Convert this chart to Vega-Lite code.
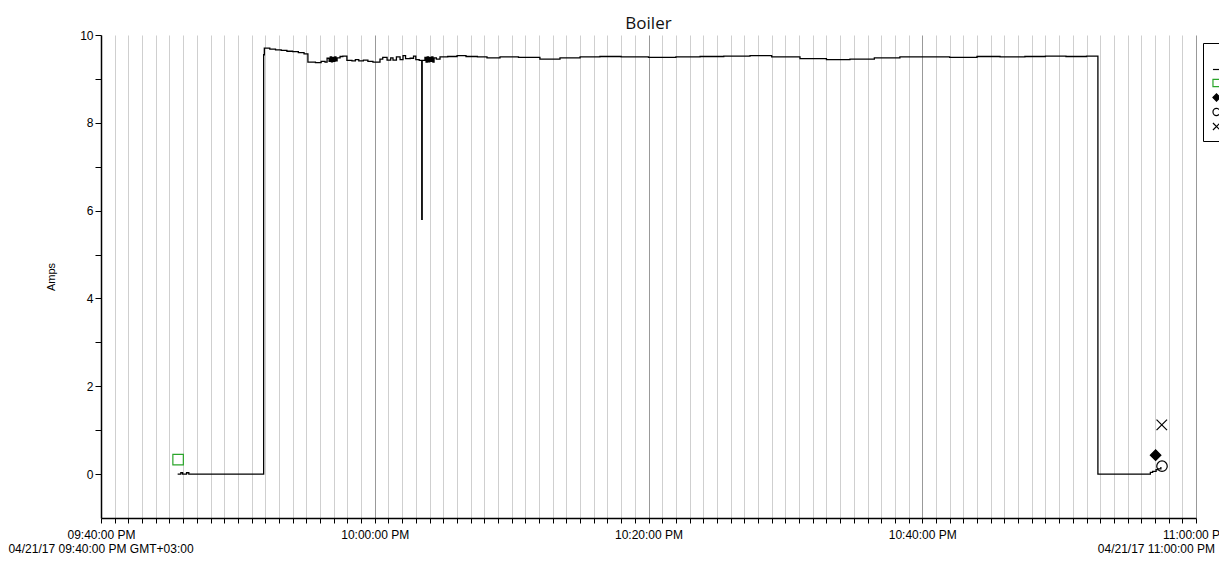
{
  "$schema": "https://vega.github.io/schema/vega-lite/v6.json",
  "width": 1095,
  "height": 483,
  "autosize": {"type": "none"},
  "padding": {"left": 101, "top": 35, "right": 23, "bottom": 48},
  "background": "white",
  "title": {"text": "Boiler", "font": "Open Sans", "fontSize": 17, "fontWeight": "normal", "color": "#111111", "anchor": "middle", "offset": -4},
  "config": {
    "view": {"stroke": null},
    "axis": {"labelFont": "Liberation Sans", "labelColor": "black", "titleFont": "Liberation Sans", "titleColor": "black", "tickColor": "black", "domainColor": "black"}
  },
  "datasets": {
    "amps": [
      {"t": "2017-04-21T21:45:36Z", "v": 0.0},
      {"t": "2017-04-21T21:45:50Z", "v": 0.03},
      {"t": "2017-04-21T21:45:58Z", "v": 0.0},
      {"t": "2017-04-21T21:46:15Z", "v": 0.03},
      {"t": "2017-04-21T21:46:25Z", "v": 0.0},
      {"t": "2017-04-21T21:51:50Z", "v": 0.0},
      {"t": "2017-04-21T21:51:53Z", "v": 9.55},
      {"t": "2017-04-21T21:51:56Z", "v": 9.7},
      {"t": "2017-04-21T21:52:20Z", "v": 9.68},
      {"t": "2017-04-21T21:52:45Z", "v": 9.66},
      {"t": "2017-04-21T21:53:10Z", "v": 9.65},
      {"t": "2017-04-21T21:53:35Z", "v": 9.63},
      {"t": "2017-04-21T21:54:00Z", "v": 9.62},
      {"t": "2017-04-21T21:54:25Z", "v": 9.6},
      {"t": "2017-04-21T21:54:50Z", "v": 9.57},
      {"t": "2017-04-21T21:55:07Z", "v": 9.38},
      {"t": "2017-04-21T21:55:40Z", "v": 9.37},
      {"t": "2017-04-21T21:56:05Z", "v": 9.4},
      {"t": "2017-04-21T21:56:22Z", "v": 9.38},
      {"t": "2017-04-21T21:56:31Z", "v": 9.47},
      {"t": "2017-04-21T21:56:40Z", "v": 9.4},
      {"t": "2017-04-21T21:56:45Z", "v": 9.5},
      {"t": "2017-04-21T21:56:50Z", "v": 9.39},
      {"t": "2017-04-21T21:56:55Z", "v": 9.49},
      {"t": "2017-04-21T21:57:00Z", "v": 9.4},
      {"t": "2017-04-21T21:57:05Z", "v": 9.5},
      {"t": "2017-04-21T21:57:10Z", "v": 9.41},
      {"t": "2017-04-21T21:57:15Z", "v": 9.48},
      {"t": "2017-04-21T21:57:28Z", "v": 9.51},
      {"t": "2017-04-21T21:57:40Z", "v": 9.52},
      {"t": "2017-04-21T21:57:58Z", "v": 9.42},
      {"t": "2017-04-21T21:58:20Z", "v": 9.41},
      {"t": "2017-04-21T21:58:35Z", "v": 9.44},
      {"t": "2017-04-21T21:58:50Z", "v": 9.41},
      {"t": "2017-04-21T21:59:10Z", "v": 9.43},
      {"t": "2017-04-21T21:59:30Z", "v": 9.4},
      {"t": "2017-04-21T21:59:52Z", "v": 9.38},
      {"t": "2017-04-21T22:00:23Z", "v": 9.45},
      {"t": "2017-04-21T22:00:35Z", "v": 9.49},
      {"t": "2017-04-21T22:00:54Z", "v": 9.43},
      {"t": "2017-04-21T22:01:10Z", "v": 9.48},
      {"t": "2017-04-21T22:01:20Z", "v": 9.43},
      {"t": "2017-04-21T22:01:35Z", "v": 9.5},
      {"t": "2017-04-21T22:01:51Z", "v": 9.44},
      {"t": "2017-04-21T22:02:04Z", "v": 9.53},
      {"t": "2017-04-21T22:02:15Z", "v": 9.46},
      {"t": "2017-04-21T22:02:35Z", "v": 9.47},
      {"t": "2017-04-21T22:02:50Z", "v": 9.52},
      {"t": "2017-04-21T22:03:00Z", "v": 9.44},
      {"t": "2017-04-21T22:03:15Z", "v": 9.42},
      {"t": "2017-04-21T22:03:26Z", "v": 5.8},
      {"t": "2017-04-21T22:03:28Z", "v": 9.42},
      {"t": "2017-04-21T22:03:40Z", "v": 9.49},
      {"t": "2017-04-21T22:03:45Z", "v": 9.38},
      {"t": "2017-04-21T22:03:50Z", "v": 9.5},
      {"t": "2017-04-21T22:03:55Z", "v": 9.39},
      {"t": "2017-04-21T22:04:00Z", "v": 9.49},
      {"t": "2017-04-21T22:04:05Z", "v": 9.4},
      {"t": "2017-04-21T22:04:10Z", "v": 9.5},
      {"t": "2017-04-21T22:04:15Z", "v": 9.38},
      {"t": "2017-04-21T22:04:20Z", "v": 9.48},
      {"t": "2017-04-21T22:04:30Z", "v": 9.45},
      {"t": "2017-04-21T22:04:46Z", "v": 9.5},
      {"t": "2017-04-21T22:05:20Z", "v": 9.51},
      {"t": "2017-04-21T22:06:01Z", "v": 9.53},
      {"t": "2017-04-21T22:06:40Z", "v": 9.51},
      {"t": "2017-04-21T22:07:30Z", "v": 9.5},
      {"t": "2017-04-21T22:08:12Z", "v": 9.48},
      {"t": "2017-04-21T22:09:09Z", "v": 9.5},
      {"t": "2017-04-21T22:10:30Z", "v": 9.49},
      {"t": "2017-04-21T22:12:04Z", "v": 9.45},
      {"t": "2017-04-21T22:13:32Z", "v": 9.48},
      {"t": "2017-04-21T22:15:00Z", "v": 9.5},
      {"t": "2017-04-21T22:16:27Z", "v": 9.51},
      {"t": "2017-04-21T22:18:00Z", "v": 9.5},
      {"t": "2017-04-21T22:20:00Z", "v": 9.49},
      {"t": "2017-04-21T22:22:00Z", "v": 9.5},
      {"t": "2017-04-21T22:23:46Z", "v": 9.51},
      {"t": "2017-04-21T22:25:30Z", "v": 9.52},
      {"t": "2017-04-21T22:27:25Z", "v": 9.53},
      {"t": "2017-04-21T22:29:00Z", "v": 9.5},
      {"t": "2017-04-21T22:31:04Z", "v": 9.46},
      {"t": "2017-04-21T22:33:00Z", "v": 9.44},
      {"t": "2017-04-21T22:34:43Z", "v": 9.45},
      {"t": "2017-04-21T22:36:30Z", "v": 9.48},
      {"t": "2017-04-21T22:38:22Z", "v": 9.5},
      {"t": "2017-04-21T22:40:00Z", "v": 9.5},
      {"t": "2017-04-21T22:42:00Z", "v": 9.49},
      {"t": "2017-04-21T22:44:00Z", "v": 9.51},
      {"t": "2017-04-21T22:45:41Z", "v": 9.5},
      {"t": "2017-04-21T22:47:30Z", "v": 9.51},
      {"t": "2017-04-21T22:49:00Z", "v": 9.52},
      {"t": "2017-04-21T22:50:30Z", "v": 9.51},
      {"t": "2017-04-21T22:52:00Z", "v": 9.52},
      {"t": "2017-04-21T22:52:50Z", "v": 0.0},
      {"t": "2017-04-21T22:56:25Z", "v": 0.0},
      {"t": "2017-04-21T22:56:40Z", "v": 0.04},
      {"t": "2017-04-21T22:56:50Z", "v": 0.06},
      {"t": "2017-04-21T22:57:05Z", "v": 0.1},
      {"t": "2017-04-21T22:57:13Z", "v": 0.12},
      {"t": "2017-04-21T22:57:26Z", "v": 0.16}
    ],
    "markers": [
      {"t": "2017-04-21T21:45:38Z", "v": 0.33, "series": "Start"},
      {"t": "2017-04-21T22:57:03Z", "v": 0.43, "series": "Average"},
      {"t": "2017-04-21T22:57:31Z", "v": 0.18, "series": "Minimum"},
      {"t": "2017-04-21T22:57:30Z", "v": 1.12, "series": "Maximum"}
    ]
  },
  "encoding": {
    "x": {
      "field": "t", "type": "temporal",
      "scale": {"type": "utc", "domain": [
        {"year": 2017, "month": 4, "date": 21, "hours": 21, "minutes": 40, "utc": true},
        {"year": 2017, "month": 4, "date": 21, "hours": 23, "minutes": 0, "utc": true}
      ]},
      "axis": {
        "title": null,
        "tickCount": 80,
        "labelExpr": "utcminutes(datum.value) % 20 == 0 ? utcFormat(datum.value, '%I:%M:%S %p') : ''",
        "labelFontSize": 12,
        "labelPadding": 6,
        "labelOverlap": false,
        "labelBound": false,
        "labelFlush": false,
        "tickSize": 5,
        "tickWidth": 1,
        "grid": true,
        "gridColor": {"condition": {"test": "utcminutes(datum.value) % 20 == 0", "value": "#999999"}, "value": "#cfcfcf"},
        "gridWidth": 1,
        "gridOpacity": 1,
        "domainWidth": 1.5
      }
    },
    "y": {
      "field": "v", "type": "quantitative",
      "scale": {"domain": [-1, 10], "nice": false, "zero": false},
      "axis": {
        "title": "Amps",
        "titleFontSize": 11,
        "titleFontWeight": "normal",
        "titlePadding": 23,
        "values": [0, 1, 2, 3, 4, 5, 6, 7, 8, 9, 10],
        "labelExpr": "datum.value % 2 == 0 ? datum.label : ''",
        "labelFontSize": 12,
        "labelPadding": 2,
        "tickSize": 6,
        "grid": false,
        "domainWidth": 1.5
      }
    }
  },
  "layer": [
    {
      "data": {"name": "amps"},
      "mark": {"type": "line", "interpolate": "step-after", "strokeWidth": 1.3, "color": "black"},
      "encoding": {}
    },
    {
      "data": {"name": "markers"},
      "mark": {"type": "point", "size": 110, "strokeWidth": 1.2, "opacity": 1},
      "encoding": {
        "stroke": {"field": "series", "type": "nominal",
          "scale": {"domain": ["Amps", "Start", "Average", "Minimum", "Maximum"], "range": ["black", "#2aa52a", "black", "black", "black"]},
          "legend": {"orient": "none", "legendX": 1102, "legendY": 8, "title": " ", "titleFontSize": 10, "titlePadding": 3, "strokeColor": "black", "fillColor": "white", "padding": 8, "symbolSize": 50, "symbolStrokeWidth": 1.2, "labelFontSize": 11, "labelOffset": 10, "labelFont": "Liberation Sans", "rowPadding": 1.5}},
        "fill": {"field": "series", "type": "nominal",
          "scale": {"domain": ["Amps", "Start", "Average", "Minimum", "Maximum"], "range": ["transparent", "transparent", "black", "transparent", "transparent"]},
          "legend": {"orient": "none", "legendX": 1102, "legendY": 8, "title": " ", "titleFontSize": 10, "titlePadding": 3, "strokeColor": "black", "fillColor": "white", "padding": 8, "symbolSize": 50, "symbolStrokeWidth": 1.2, "labelFontSize": 11, "labelOffset": 10, "labelFont": "Liberation Sans", "rowPadding": 1.5}},
        "shape": {"field": "series", "type": "nominal",
          "scale": {"domain": ["Amps", "Start", "Average", "Minimum", "Maximum"], "range": ["M-1,0L1,0", "square", "diamond", "circle", "M-1,-1L1,1M-1,1L1,-1"]},
          "legend": {"orient": "none", "legendX": 1102, "legendY": 8, "title": " ", "titleFontSize": 10, "titlePadding": 3, "strokeColor": "black", "fillColor": "white", "padding": 8, "symbolSize": 50, "symbolStrokeWidth": 1.2, "labelFontSize": 11, "labelOffset": 10, "labelFont": "Liberation Sans", "rowPadding": 1.5}}
      }
    },
    {
      "data": {"values": [{"t": "2017-04-21T21:40:00Z", "v": -1, "label": "04/21/17 09:40:00 PM GMT+03:00"}]},
      "mark": {"type": "text", "align": "center", "baseline": "alphabetic", "dy": 35, "font": "Liberation Sans", "fontSize": 12, "color": "black"},
      "encoding": {"text": {"field": "label", "type": "nominal"}}
    },
    {
      "data": {"values": [{"t": "2017-04-21T23:00:00Z", "v": -1, "label": "04/21/17 11:00:00 PM"}]},
      "mark": {"type": "text", "align": "right", "baseline": "alphabetic", "dx": 19, "dy": 35, "font": "Liberation Sans", "fontSize": 12, "color": "black"},
      "encoding": {"text": {"field": "label", "type": "nominal"}}
    }
  ]
}
